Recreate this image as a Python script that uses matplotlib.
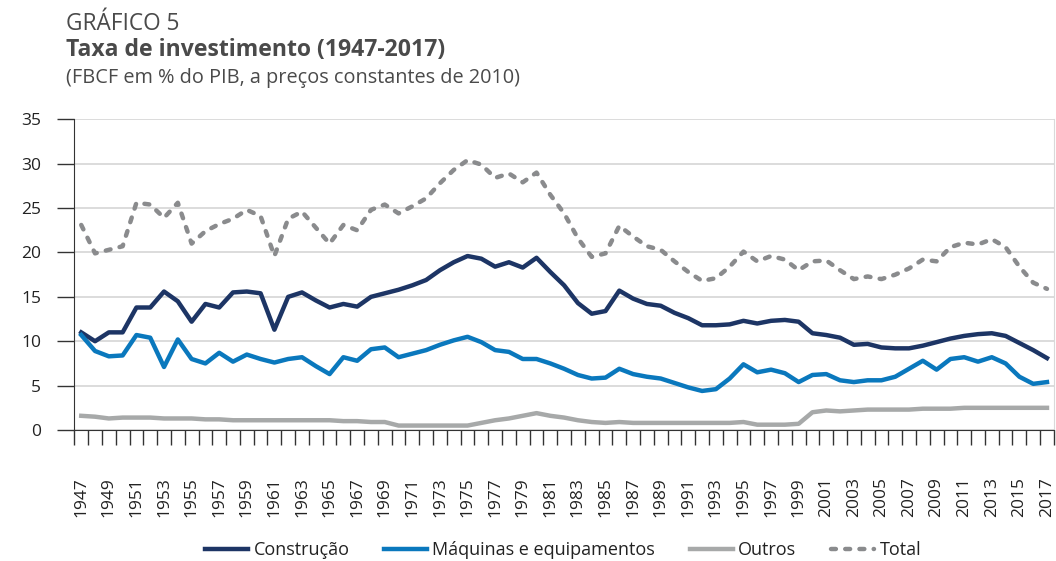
import matplotlib
matplotlib.use("Agg")
import matplotlib.pyplot as plt
import numpy as np

plt.rcParams["font.family"] = ["Open Sans", "DejaVu Sans"]

years = np.arange(1947, 2018)

construcao = [
    11.0, 10.0, 11.0, 11.0, 13.8, 13.8, 15.6, 14.5, 12.2, 14.2,   # 1947-56
    13.8, 15.5, 15.6, 15.4, 11.3, 15.0, 15.5, 14.6, 13.8, 14.2,   # 1957-66
    13.9, 15.0, 15.4, 15.8, 16.3, 16.9, 18.0, 18.9, 19.6, 19.3,   # 1967-76
    18.4, 18.9, 18.3, 19.4, 17.8, 16.3, 14.3, 13.1, 13.4, 15.7,   # 1977-86
    14.8, 14.2, 14.0, 13.2, 12.6, 11.8, 11.8, 11.9, 12.3, 12.0,   # 1987-96
    12.3, 12.4, 12.2, 10.9, 10.7, 10.4, 9.6, 9.7, 9.3, 9.2,       # 1997-2006
    9.2, 9.5, 9.9, 10.3, 10.6, 10.8, 10.9, 10.6, 9.8, 9.0,        # 2007-16
    8.1,                                                          # 2017
]
maquinas = [
    10.7, 8.9, 8.3, 8.4, 10.7, 10.4, 7.1, 10.2, 8.0, 7.5,
    8.7, 7.7, 8.5, 8.0, 7.6, 8.0, 8.2, 7.2, 6.3, 8.2,
    7.8, 9.1, 9.3, 8.2, 8.6, 9.0, 9.6, 10.1, 10.5, 9.9,
    9.0, 8.8, 8.0, 8.0, 7.5, 6.9, 6.2, 5.8, 5.9, 6.9,
    6.3, 6.0, 5.8, 5.3, 4.8, 4.4, 4.6, 5.8, 7.4, 6.5,
    6.8, 6.4, 5.4, 6.2, 6.3, 5.6, 5.4, 5.6, 5.6, 6.0,
    6.9, 7.8, 6.8, 8.0, 8.2, 7.7, 8.2, 7.5, 6.0, 5.2,
    5.4,
]
outros = [
    1.6, 1.5, 1.3, 1.4, 1.4, 1.4, 1.3, 1.3, 1.3, 1.2,
    1.2, 1.1, 1.1, 1.1, 1.1, 1.1, 1.1, 1.1, 1.1, 1.0,
    1.0, 0.9, 0.9, 0.5, 0.5, 0.5, 0.5, 0.5, 0.5, 0.8,
    1.1, 1.3, 1.6, 1.9, 1.6, 1.4, 1.1, 0.9, 0.8, 0.9,
    0.8, 0.8, 0.8, 0.8, 0.8, 0.8, 0.8, 0.8, 0.9, 0.6,
    0.6, 0.6, 0.7, 2.0, 2.2, 2.1, 2.2, 2.3, 2.3, 2.3,
    2.3, 2.4, 2.4, 2.4, 2.5, 2.5, 2.5, 2.5, 2.5, 2.5,
    2.5,
]
total = [
    23.1, 19.9, 20.3, 20.7, 25.6, 25.4, 23.9, 25.6, 21.0, 22.4,
    23.2, 23.8, 24.8, 24.1, 19.6, 23.8, 24.6, 22.8, 21.0, 23.1,
    22.5, 24.8, 25.4, 24.4, 25.2, 26.1, 27.8, 29.3, 30.4, 29.9,
    28.4, 28.9, 27.9, 29.0, 26.5, 24.4, 21.6, 19.5, 19.9, 23.0,
    21.8, 20.7, 20.3, 19.0, 17.8, 16.8, 17.1, 18.4, 20.1, 19.0,
    19.6, 19.2, 18.0, 19.0, 19.1, 18.0, 17.0, 17.3, 17.0, 17.5,
    18.2, 19.2, 19.0, 20.6, 21.1, 20.9, 21.5, 20.6, 18.4, 16.6,
    15.9,
]

labels = ["Construção", "Máquinas e equipamentos", "Outros", "Total"]
colors = ["#1d3565", "#0a78bd", "#a7a9a9", "#8a8b8d"]
text_col = "#4a4a4a"

fig = plt.figure(figsize=(10.56, 5.61), dpi=100)
ax = fig.add_axes([0.0704, 0.2335, 0.9276, 0.5538])

lw = 3.2
ax.plot(years, construcao, color=colors[0], lw=lw, label=labels[0])
ax.plot(years, maquinas, color=colors[1], lw=lw, label=labels[1])
ax.plot(years, outros, color=colors[2], lw=lw, label=labels[2])
ax.plot(years, total, color=colors[3], lw=lw, label=labels[3],
        dashes=(1.1, 2.1), dash_capstyle="round")

ax.set_xlim(1946.5, 2017.5)
ax.set_ylim(0, 35)
ax.set_yticks(np.arange(0, 36, 5))
ax.grid(axis="y", color="#d9d9d9", lw=1.3)
ax.set_axisbelow(True)

# labels every other year, tick marks between years
ax.set_xticks(years[::2])
ax.set_xticklabels([str(y) for y in years[::2]], rotation=90, va="top")
ax.set_xticks(np.arange(1946.5, 2018, 1), minor=True)
ax.tick_params(axis="x", which="major", length=0, pad=34, labelsize=12.5, labelcolor="#222222")
ax.tick_params(axis="x", which="minor", length=11, width=1.0, color="#333333")
ax.tick_params(axis="y", length=12, width=1.0, color="#333333", pad=12,
               labelsize=12.5, labelcolor="#222222")

ax.spines["top"].set_visible(False)
ax.spines["right"].set_color("#d9d9d9")
ax.spines["left"].set_color("#333333")
ax.spines["bottom"].set_color("#333333")

fig.text(0.0625, 1 - 30 / 561, "GRÁFICO 5", fontsize=16.3, color=text_col, va="baseline")
fig.text(0.0625, 1 - 56 / 561, "Taxa de investimento (1947-2017)", fontsize=16.6,
         fontweight="bold", color=text_col, va="baseline")
fig.text(0.0625, 1 - 83 / 561, "(FBCF em % do PIB, a preços constantes de 2010)",
         fontsize=14.3, color=text_col, va="baseline")

fig.legend(loc="center", bbox_to_anchor=(0.533, 1 - 550 / 561), ncol=4, frameon=False,
           fontsize=13, handlelength=2.4, columnspacing=1.9, handletextpad=0.3,
           labelcolor="#222222")

fig.savefig("out.png", dpi=100)
